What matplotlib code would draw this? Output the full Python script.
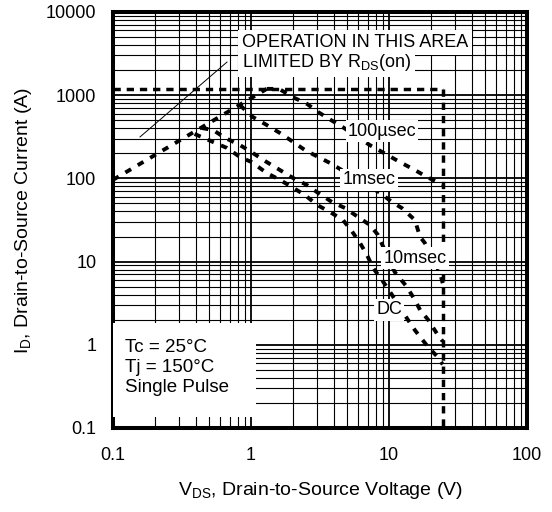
import matplotlib
matplotlib.use("Agg")
import matplotlib.pyplot as plt
from matplotlib.patches import Rectangle
from matplotlib.ticker import LogLocator, NullFormatter

plt.rcParams['font.family'] = ['Liberation Sans', 'DejaVu Sans']
plt.rcParams['mathtext.fontset'] = 'custom'
plt.rcParams['mathtext.rm'] = 'Liberation Sans'
plt.rcParams['mathtext.it'] = 'Liberation Sans:italic'
plt.rcParams['mathtext.bf'] = 'Liberation Sans:bold'

# ---- data ----
x_ticks = [0.1, 1, 10, 100]
x_tick_labels = ['0.1', '1', '10', '100']
y_ticks = [0.1, 1, 10, 100, 1000, 10000]
y_tick_labels = ['0.1', '1', '10', '100', '1000', '10000']

# common RDS(on) limited rise
rds_v = [0.1, 1.3]
rds_i = [96, 1190]

# pulse curves (after leaving the RDS(on) line)
us100_v = [1.3, 1.6, 2.0, 2.55, 3.05, 3.6, 4.6, 7.3, 9.8, 12.0, 15.4, 18.8, 24.5]
us100_i = [1190, 1190, 950, 785, 630, 530, 415, 250, 190, 157, 126, 104, 84]

ms1_v = [0.83, 1.03, 1.3, 1.62, 2.02, 2.46, 3.06, 3.74, 8.6, 10.5, 12.4, 15.4, 16.2, 16.8, 18.2, 23.4, 24.5]
ms1_i = [760, 547, 438, 351, 274, 219, 181, 153, 67, 52, 44, 31.6, 24, 19.8, 16.7, 7.3, 5.5]

ms10_v = [0.44, 0.53, 0.65, 0.83, 1.03, 1.3, 1.62, 2.02, 2.55, 3.06, 3.86, 4.8, 5.96, 7.28, 8.32, 9.5,
          11.0, 13.5, 15.4, 16.8, 19.2, 22.6, 24.5]
ms10_i = [403, 382, 306, 252, 202, 157, 126, 101, 83, 67, 52, 44, 34.4, 27.5, 20.9, 12.7,
          7.5, 4.95, 3.45, 2.62, 2.0, 1.31, 1.1]

dc_v = [0.39, 0.53, 0.67, 0.83, 1.01, 1.3, 1.62, 2.02, 2.46, 3.01, 3.74, 4.64, 5.4, 6.17, 6.93, 7.66,
        8.9, 10.2, 13.7, 15.4, 19.2, 22.6, 24.5]
dc_i = [342, 274, 232, 181, 157, 116, 96, 77, 63, 48, 39.4, 31.6, 23, 16.7, 12.0, 8.4,
        6.0, 4.3, 2.0, 1.5, 0.94, 0.71, 0.58]

# package / BVdss limits
v_max = 24.5
i_max = 1190

# thin pointer line for the RDS(on) note
note_v = [0.157, 0.67]
note_i = [315, 2500]

fig = plt.figure(figsize=(5.52, 5.12), dpi=100)
ax = fig.add_axes([0.2047, 0.1641, 0.75, 0.8125])
ax.set_xscale('log')
ax.set_yscale('log')
ax.set_xlim(0.1, 100)
ax.set_ylim(0.1, 10000)

# grid
ax.xaxis.set_minor_locator(LogLocator(base=10, subs=range(2, 10), numticks=20))
ax.yaxis.set_minor_locator(LogLocator(base=10, subs=range(2, 10), numticks=20))
ax.xaxis.set_minor_formatter(NullFormatter())
ax.yaxis.set_minor_formatter(NullFormatter())
ax.grid(which='minor', color='black', lw=0.8)
ax.grid(which='major', color='black', lw=1.3)
ax.set_axisbelow(True)

ax.set_xticks(x_ticks, x_tick_labels)
ax.set_yticks(y_ticks, y_tick_labels)
ax.tick_params(which='both', length=0, labelsize=13)
ax.tick_params(axis='x', pad=14)
ax.tick_params(axis='y', pad=12)
for s in ax.spines.values():
    s.set_linewidth(2.9)

# curves
curve_style = dict(color='black', lw=2.8, ls=(0, (1.7, 2.0)), zorder=3)
lim_style = dict(color='black', lw=2.5, ls=(0, (2.1, 1.7)), zorder=3)
ax.plot(rds_v, rds_i, **curve_style)
ax.plot(us100_v, us100_i, **curve_style)
ax.plot(ms1_v, ms1_i, **curve_style)
ax.plot(ms10_v, ms10_i, **curve_style)
ax.plot(dc_v, dc_i, **curve_style)
ax.plot([0.1, v_max], [i_max, i_max], **lim_style)
ax.plot([v_max, v_max], [i_max, 0.1], **lim_style)
ax.plot(note_v, note_i, color='black', lw=0.7, zorder=3)

# curve labels
box = dict(facecolor='white', edgecolor='none', boxstyle='square,pad=0.12')
lab = dict(fontsize=13, ha='center', va='center', bbox=box, zorder=5)
ax.text(8.9, 371, '100µsec', **lab)
ax.text(7.16, 95.7, '1msec', **lab)
ax.text(15.4, 11.0, '10msec', **lab)
ax.text(10.0, 2.62, 'DC', **lab)

note_box = dict(facecolor='white', edgecolor='none', boxstyle='square,pad=0.2')
ax.text(0.861, 3795, 'OPERATION IN THIS AREA', fontsize=13, ha='left', va='baseline',
        bbox=note_box, zorder=5)
ax.text(0.861, 2183, r'LIMITED BY R$_{\mathrm{DS}}$(on)', fontsize=13, ha='left', va='baseline',
        bbox=note_box, zorder=5)

# conditions box
ax.add_patch(Rectangle((0, 0.026), 0.345, 0.226, transform=ax.transAxes,
                       facecolor='white', edgecolor='none', zorder=4))
ax.text(0.029, 0.214, 'Tc = 25°C\nTj = 150°C\nSingle Pulse', fontsize=13.5,
        transform=ax.transAxes, ha='left', va='top', zorder=5, linespacing=1.25)

ax.set_xlabel(r'V$_{\mathrm{DS}}$, Drain-to-Source Voltage (V)', fontsize=14)
ax.set_ylabel(r'I$_{\mathrm{D}}$, Drain-to-Source Current (A)', fontsize=14)
ax.xaxis.set_label_coords(0.5, -0.125)
ax.yaxis.set_label_coords(-0.19, 0.5)

fig.savefig('out.png', dpi=100)
